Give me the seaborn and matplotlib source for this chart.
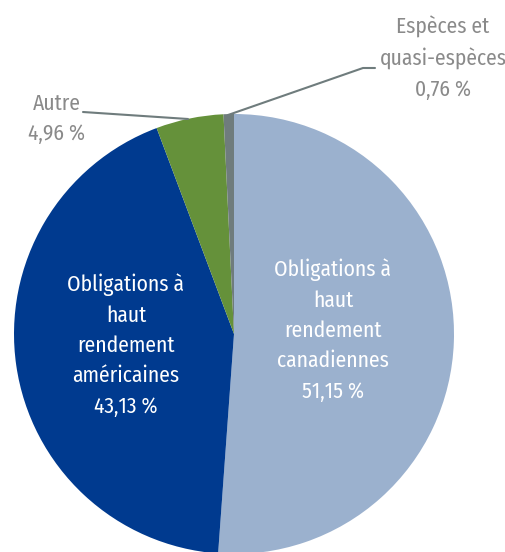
import matplotlib
matplotlib.use("Agg")
import matplotlib.pyplot as plt
import seaborn as sns

labels = [
    "Obligations à\nhaut\nrendement\ncanadiennes",
    "Obligations à\nhaut\nrendement\naméricaines",
    "Autre",
    "Espèces et\nquasi-espèces",
]
shares = [51.15, 43.13, 4.96, 0.76]
colors = ["#9bb1ce", "#003a8f", "#65913a", "#6f7c7d"]

sns.set_theme(style="white")
plt.rcParams["font.family"] = ["Fira Sans Condensed", "DejaVu Sans"]

fig = plt.figure(figsize=(5.06, 5.52), dpi=100)
W, H = 506, 552
cx, cy, r = 234, 334, 220
ax = fig.add_axes([(cx - r) / W, (H - cy - r) / H, 2 * r / W, 2 * r / H])


def to_data(px, py):
    return (px - cx) / r, (cy - py) / r


wedges, _ = ax.pie(shares, colors=colors, startangle=90, counterclock=False,
                   radius=1, wedgeprops=dict(linewidth=0))
for w in wedges:
    w.set_clip_on(False)
ax.set_xlim(-1, 1)
ax.set_ylim(-1, 1)
ax.set_aspect("equal")
ax.axis("off")

fmt = lambda v: f"{v:.2f}".replace(".", ",") + " %"
fs = 15.5
ls = 1.54

x, y = to_data(333, 330)
ax.text(x, y, labels[0] + "\n" + fmt(shares[0]), color="white", fontsize=fs,
        ha="center", va="center", linespacing=ls)
x, y = to_data(126, 345)
ax.text(x, y, labels[1] + "\n" + fmt(shares[1]), color="white", fontsize=fs,
        ha="center", va="center", linespacing=ls)

grey_txt = "#8a8a8a"
x, y = to_data(57, 119)
ax.text(x, y, labels[2] + "\n" + fmt(shares[2]), color=grey_txt, fontsize=fs,
        ha="center", va="center", linespacing=ls, clip_on=False)
x, y = to_data(443, 58)
ax.text(x, y, labels[3] + "\n" + fmt(shares[3]), color=grey_txt, fontsize=fs,
        ha="center", va="center", linespacing=ls, clip_on=False)

line_c = "#6f7c7d"
pts = [to_data(83, 112), to_data(188, 119)]
ax.plot([p[0] for p in pts], [p[1] for p in pts], color=line_c, lw=1.5, clip_on=False)
pts = [to_data(375, 68), to_data(363, 68), to_data(228, 115)]
ax.plot([p[0] for p in pts], [p[1] for p in pts], color=line_c, lw=1.5, clip_on=False)

fig.savefig("out.png", dpi=100)
